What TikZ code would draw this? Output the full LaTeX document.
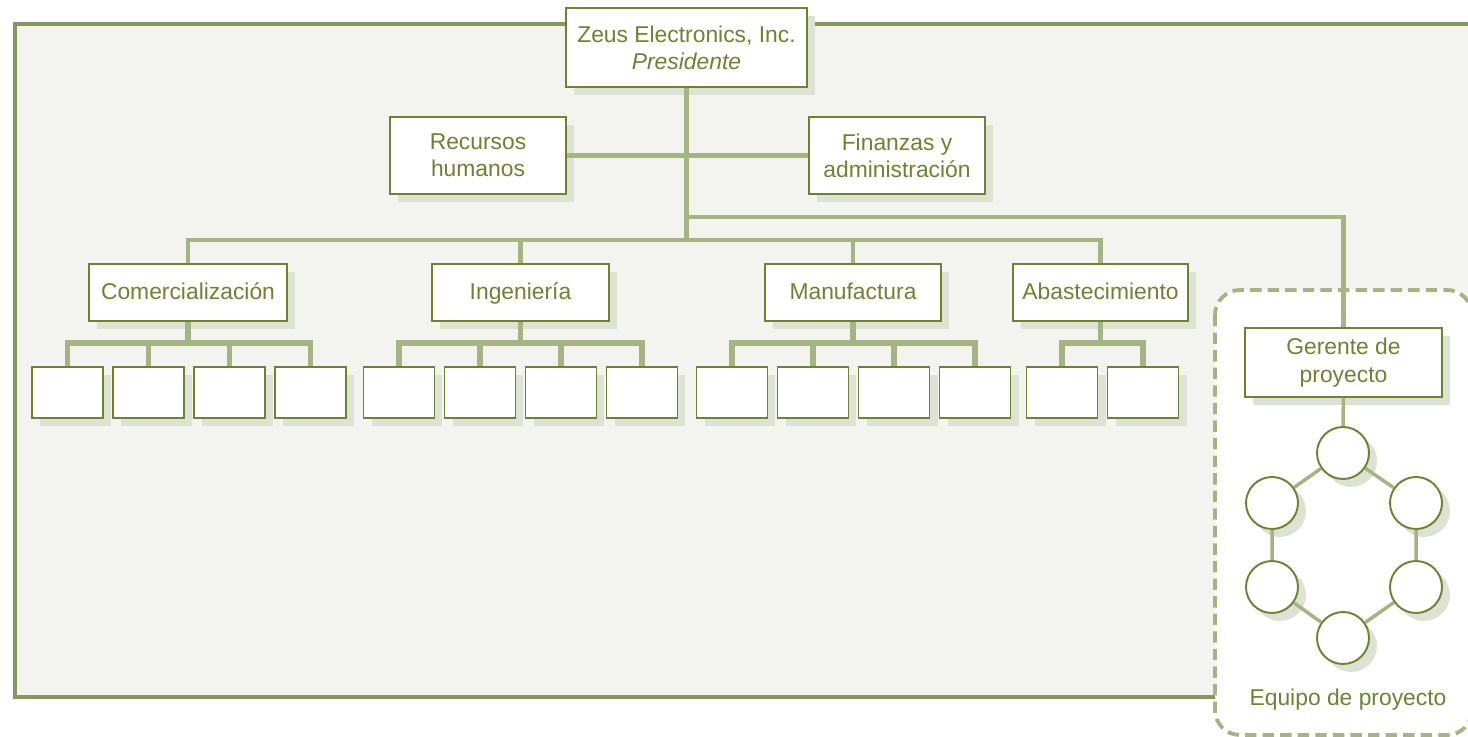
\documentclass[tikz,border=0pt]{standalone}
\usepackage{fontspec}
\setmainfont{Liberation Sans}
\usetikzlibrary{shadows,positioning}

\definecolor{olivo}{HTML}{6E8232}
\definecolor{linea}{HTML}{A6B481}
\definecolor{marco}{HTML}{85985A}
\definecolor{sombra}{HTML}{DEE2D2}
\definecolor{fondo}{HTML}{F3F4EF}

\begin{document}
\begin{tikzpicture}[x=0.02cm, y=-0.02cm,
  caja/.style={draw=olivo, line width=1.1pt, fill=white, text=olivo,
    align=center, inner sep=0pt, font=\fontsize{13}{15.5}\selectfont,
    drop shadow={shadow xshift=0.16cm, shadow yshift=-0.16cm,
      fill=sombra, opacity=1}},
  dpto/.style={caja, minimum height=1.14cm, text height=2.1ex, text depth=0.6ex},
  sub/.style={caja, minimum width=1.42cm, minimum height=1.02cm},
  miembro/.style={caja, circle, minimum size=1.04cm},
  enlace/.style={draw=linea, line width=2.8pt},
  ramal/.style={draw=linea, line width=3.2pt},
  lazo/.style={draw=linea, line width=2pt}]
\useasboundingbox (0,0) rectangle (1468,737);
\fill[fondo] (15,24) rectangle (1480,697);
\draw[marco, line width=2.2pt] (1480,24) -- (15,24) -- (15,697) -- (1215,697);
\draw[linea, line width=2.2pt, dash pattern=on 6.5pt off 3.5pt,
  fill=white, rounded corners=0.5cm] (1215,290) rectangle (1472,735);

\node[caja, minimum width=4.82cm, minimum height=1.58cm] (pres) at (686.5,47.5)
  {Zeus Electronics, Inc.\\ \textit{Presidente}};
\node[caja, minimum width=3.52cm, minimum height=1.54cm] (rh) at (478,155.5)
  {Recursos\\ humanos};
\node[caja, minimum width=3.52cm, minimum height=1.54cm] (fin) at (897,155.5)
  {Finanzas y\\ administración};
\node[dpto, minimum width=3.96cm] (com) at (188,292.5) {Comercialización};
\node[dpto, minimum width=3.54cm] (ing) at (520.5,292.5) {Ingeniería};
\node[dpto, minimum width=3.52cm] (man) at (853,292.5) {Manufactura};
\node[dpto, minimum width=3.5cm] (aba) at (1100.5,292.5) {Abastecimiento};
\node[caja, minimum width=3.94cm, minimum height=1.38cm] (ger) at (1343.5,362.5)
  {Gerente de\\ proyecto};

\coordinate (bus) at (686.5,240);
\coordinate (ramalP) at (686.5,217);
\draw[enlace] (rh) -- (fin);
\draw[enlace] (pres) -- (bus);
\draw[enlace] (com) |- (bus) -| (aba);
\draw[enlace] (ing) -- (ing |- bus);
\draw[enlace] (man) -- (man |- bus);
\draw[enlace] (ramalP) -| (ger);

\foreach \d/\x/\n in {com/67.5/4, ing/399/4, man/732/4, aba/1062/2} {
  \foreach \i in {1,...,\n}
    \node[sub] (\d-\i) at ({\x+81*(\i-1)},392.5) {};
  \path (\d.south) ++(0,21) coordinate (\d-b);
  \draw[ramal] (\d) -- (\d-b);
  \draw[ramal] (\d-1) |- (\d-b) -| (\d-\n);
  \foreach \i in {1,...,\n}
    \draw[ramal] (\d-\i) -- (\d-\i |- \d-b);
}

\node[miembro] (m1) at (1343,453) {};
\node[miembro] (m2) at (1416,503) {};
\node[miembro] (m3) at (1416,587) {};
\node[miembro] (m4) at (1343,638) {};
\node[miembro] (m5) at (1272,587) {};
\node[miembro] (m6) at (1272,503) {};
\draw[lazo] (ger) -- (m1);
\draw[lazo] (m1) -- (m2) -- (m3) -- (m4) -- (m5) -- (m6) -- (m1);
\node[text=olivo, font=\fontsize{13}{15.5}\selectfont] (equipo) at (1348,700)
  {Equipo de proyecto};
\end{tikzpicture}
\end{document}
